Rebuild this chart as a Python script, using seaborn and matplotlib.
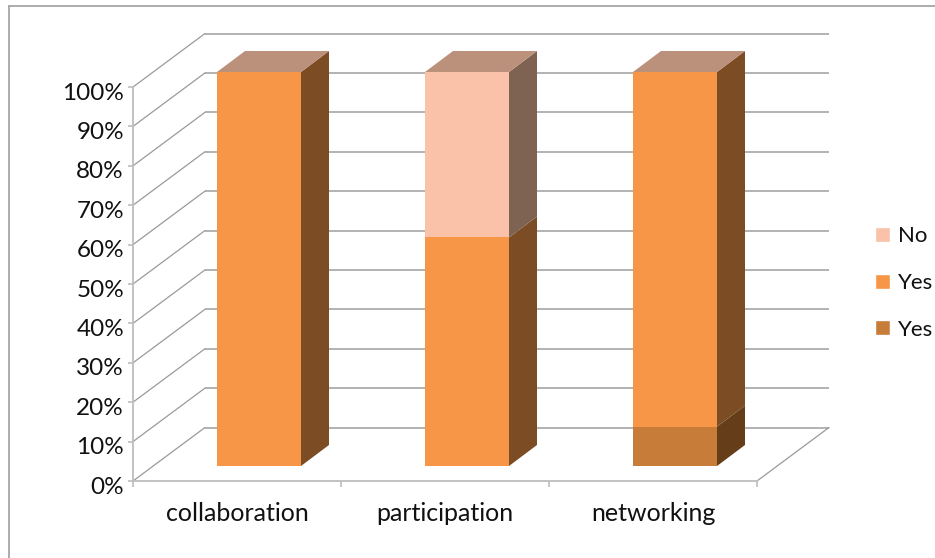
import matplotlib
matplotlib.use("Agg")
import matplotlib.pyplot as plt
import numpy as np
import pandas as pd
import seaborn as sns
from matplotlib.lines import Line2D
from matplotlib.patches import Patch, Polygon
from matplotlib.transforms import ScaledTranslation

categories = ["collaboration", "participation", "networking"]
yes_lower = [0, 0, 10]
yes_upper = [100, 58, 90]
no_values = [0, 42, 0]
y_ticks = list(range(0, 101, 10))

FRONT = {"lower": "#C87C3A", "upper": "#F79646", "no": "#FAC2A8"}
SIDE = {"lower": "#653D18", "upper": "#7C4C24", "no": "#7E6353"}
TOP_FACE = "#BC917B"
GRID = "#A6A6A6"
DIAGONAL = "#9A9A9A"
AXIS = "#BDBDBD"

sns.set_theme(style="white")
plt.rcParams["font.family"] = ["Lato", "DejaVu Sans"]

fig = plt.figure(figsize=(9.35, 5.58), dpi=100, facecolor="white")
W, H = 935, 558
ax = fig.add_axes([133 / W, 1 - 481 / H, 624 / W, 394 / H])

# Oblique projection offsets, as fractions of one category and of the value range
PX_X = 3 / 624
PX_Y = 100 / 394
bar_dx, bar_dy = 22 * PX_X, 15 * PX_Y
depth_dx, depth_dy = 28 * PX_X, 21 * PX_Y
wall_dx, wall_dy = 72 * PX_X, 53.5 * PX_Y

frame = pd.DataFrame({"category": categories})
stack = np.zeros(len(categories))
for key, vals in [("lower", yes_lower), ("upper", yes_upper), ("no", no_values)]:
    frame["value"] = vals
    start = len(ax.patches)
    sns.barplot(
        data=frame, x="category", y="value", order=categories, color=FRONT[key],
        saturation=1, width=84 / 208, bottom=stack.copy(), ax=ax, zorder=3,
        clip_on=False, linewidth=0,
    )
    for bar in ax.patches[start:]:
        bar.set_x(bar.get_x() + bar_dx)
        bar.set_y(bar.get_y() + bar_dy)
        bar.set_clip_on(False)
        h = bar.get_height()
        if h <= 0:
            continue
        x1 = bar.get_x() + bar.get_width()
        y0 = bar.get_y()
        ax.add_patch(Polygon(
            [(x1, y0), (x1 + depth_dx, y0 + depth_dy),
             (x1 + depth_dx, y0 + h + depth_dy), (x1, y0 + h)],
            closed=True, facecolor=SIDE[key], edgecolor="none", zorder=3, clip_on=False,
        ))
    stack = stack + np.array(vals, dtype=float)

# Cap on top of each finished stack
for bar in list(ax.patches):
    if isinstance(bar, Polygon) or bar.get_height() <= 0:
        continue
    top = bar.get_y() + bar.get_height()
    if abs(top - bar_dy - 100) < 1e-6:
        x0 = bar.get_x()
        x1 = x0 + bar.get_width()
        ax.add_patch(Polygon(
            [(x0, top), (x1, top), (x1 + depth_dx, top + depth_dy), (x0 + depth_dx, top + depth_dy)],
            closed=True, facecolor=TOP_FACE, edgecolor="none", zorder=3, clip_on=False,
        ))

ax.set_xlim(-0.5, 2.5)
ax.set_ylim(0, 100)

# Back wall gridlines, side wall diagonals and the floor edge
for t in y_ticks:
    ax.plot([-0.5 + wall_dx, 2.5 + wall_dx], [t + wall_dy] * 2, color=GRID, lw=1.2,
            zorder=1, clip_on=False, solid_capstyle="butt")
    ax.plot([-0.5, -0.5 + wall_dx], [t, t + wall_dy], color=DIAGONAL, lw=0.9,
            zorder=1, clip_on=False)
ax.plot([2.5, 2.5 + wall_dx], [0, wall_dy], color=DIAGONAL, lw=0.9, zorder=1, clip_on=False)

ax.set_xlabel("")
ax.set_ylabel("")
ax.set_yticks(y_ticks)
ax.set_yticklabels([f"{t}%" for t in y_ticks])
ax.set_xticks(range(len(categories)))
ax.set_xticklabels(categories)
ax.set_xticks([-0.5, 0.5, 1.5, 2.5], minor=True)
ax.tick_params(axis="y", which="major", length=3.5, width=1.2, color=AXIS, labelsize=17.5,
               labelcolor="#111111", pad=3, left=True)
ax.tick_params(axis="x", which="major", length=0, labelsize=18, labelcolor="#111111", pad=15)
ax.tick_params(axis="x", which="minor", length=4.5, width=1.2, color=AXIS, bottom=True)
ax.patch.set_alpha(0)
for name in ("top", "right"):
    ax.spines[name].set_visible(False)
for name in ("left", "bottom"):
    ax.spines[name].set_color(AXIS)
    ax.spines[name].set_linewidth(1.3)

# Value labels sit a little below their tick marks
nudge = ScaledTranslation(0, -3 / 72, fig.dpi_scale_trans)
for label in ax.get_yticklabels():
    label.set_transform(label.get_transform() + nudge)

handles = [Patch(facecolor=FRONT["no"], label="No"),
           Patch(facecolor=FRONT["upper"], label="Yes"),
           Patch(facecolor=FRONT["lower"], label="Yes")]
fig.legend(
    handles=handles, loc="center left", bbox_to_anchor=(875 / W, 1 - 283 / H), frameon=False,
    fontsize=16, handlelength=0.675, handleheight=0.675, handletextpad=0.36, labelspacing=1.2,
    borderpad=0, borderaxespad=0, labelcolor="#111111",
)

# Chart-area border: only the top and left edges fall inside the canvas
border = "#A6A6A6"
fig.add_artist(Line2D([8.5 / W, 8.5 / W], [0, 1 - 6 / H], color=border, lw=1.3, transform=fig.transFigure))
fig.add_artist(Line2D([8.5 / W, 1], [1 - 6 / H, 1 - 6 / H], color=border, lw=1.3, transform=fig.transFigure))

fig.savefig("out.png", dpi=100, facecolor="white")
